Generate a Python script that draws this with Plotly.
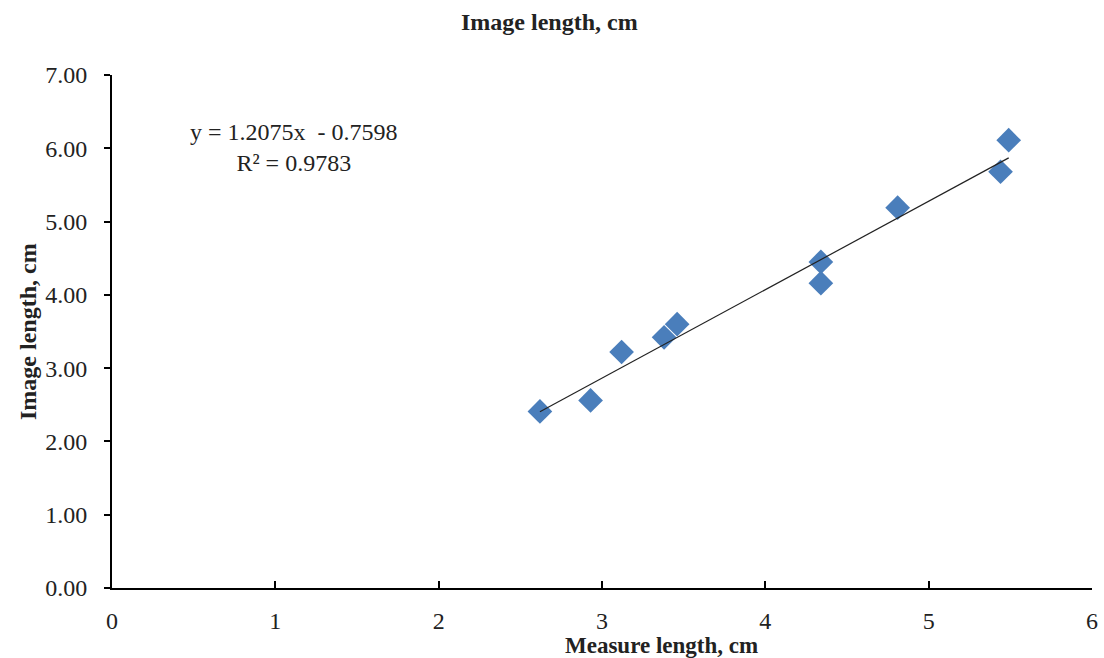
import plotly.graph_objects as go
import numpy as np

measure_cm = [2.62, 2.93, 3.12, 3.38, 3.46, 4.34, 4.34, 4.81, 5.44, 5.49]
image_cm = [2.41, 2.56, 3.22, 3.42, 3.60, 4.45, 4.16, 5.19, 5.68, 6.11]
slope = 1.2075
intercept = -0.7598
r2 = 0.9783

x_ticks = [0, 1, 2, 3, 4, 5, 6]
y_ticks = [0, 1, 2, 3, 4, 5, 6, 7]
y_tick_labels = [f"{v:.2f}" for v in y_ticks]

FONT = "Liberation Serif"
FS = 24

fig = go.Figure()
fig.add_trace(go.Scatter(
    x=measure_cm, y=image_cm, mode="markers",
    marker=dict(symbol="diamond", size=19, color="#4A7EBB"),
    showlegend=False,
))
xl = np.array([min(measure_cm), max(measure_cm)])
fig.add_trace(go.Scatter(
    x=xl, y=slope * xl + intercept, mode="lines",
    line=dict(color="#222222", width=1.2), showlegend=False,
))

fig.update_layout(
    width=1104, height=658,
    margin=dict(l=112, r=6, t=75, b=70),
    paper_bgcolor="white", plot_bgcolor="white",
    font=dict(family=FONT, size=FS, color="#222222"),
    xaxis=dict(
        range=[0, 6], tickvals=x_ticks, ticktext=[str(v) for v in x_ticks],
        showgrid=False, zeroline=False, showline=True, linecolor="black", linewidth=2,
        ticks="inside", ticklen=7, tickwidth=1.5, tickcolor="black",
        ticklabelstandoff=10,
    ),
    yaxis=dict(
        range=[0, 7], tickvals=y_ticks, ticktext=y_tick_labels,
        showgrid=False, zeroline=False, showline=True, linecolor="black", linewidth=2,
        ticks="outside", ticklen=6, tickwidth=1.5, tickcolor="black",
        ticklabelstandoff=12,
    ),
    annotations=[
        dict(text="<b>Image length, cm</b>", xref="paper", yref="paper",
             x=(552 - 112) / 986, y=1 + (75 - 22) / 513,
             showarrow=False, font=dict(size=FS), xanchor="center", yanchor="middle"),
        dict(text="<b>Measure length, cm</b>", xref="paper", yref="paper",
             x=(665 - 112) / 986, y=-(645 - 588) / 513,
             showarrow=False, font=dict(size=FS - 1), xanchor="center", yanchor="middle"),
        dict(text="<b>Image length, cm</b>", xref="paper", yref="paper",
             x=-(112 - 27) / 986, y=0.5, textangle=-90,
             showarrow=False, font=dict(size=FS), xanchor="center", yanchor="middle"),
        dict(text=f"y = {slope}x  - {abs(intercept)}<br>R² = {r2}", xref="paper", yref="paper",
             x=(295 - 112) / 986, y=(588 - 147) / 513, align="center",
             showarrow=False, font=dict(size=FS), xanchor="center", yanchor="middle"),
    ],
)

fig.write_html("out.html")
